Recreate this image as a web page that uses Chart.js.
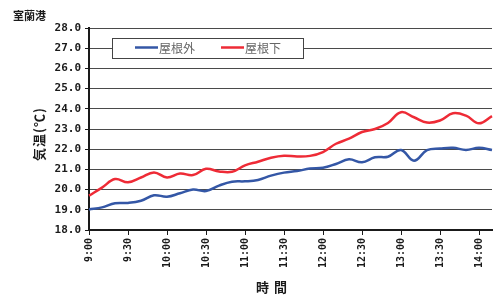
<!DOCTYPE html>
<html>
<head>
<meta charset="utf-8">
<script src="https://cdn.jsdelivr.net/npm/chart.js@4/dist/chart.umd.min.js"></script>
<style>
  html, body { margin: 0; padding: 0; background: #fff; }
  #wrap { width: 495px; height: 300px; }
</style>
</head>
<body>
<div id="wrap"><canvas id="c" width="495" height="300"></canvas></div>
<script>
// ═══ DATA ═══
const times = [
  '9:00', '9:10', '9:20', '9:30', '9:40', '9:50',
  '10:00', '10:10', '10:20', '10:30', '10:40', '10:50',
  '11:00', '11:10', '11:20', '11:30', '11:40', '11:50',
  '12:00', '12:10', '12:20', '12:30', '12:40', '12:50',
  '13:00', '13:10', '13:20', '13:30', '13:40', '13:50',
  '14:00', '14:10'
];
const tickLabels = ['9:00', '9:30', '10:00', '10:30', '11:00', '11:30', '12:00', '12:30', '13:00', '13:30', '14:00'];

const outside = [ // 屋根外
  19.02, 19.12, 19.32, 19.34, 19.45, 19.72,
  19.65, 19.82, 20.00, 19.93, 20.20, 20.39,
  20.41, 20.48, 20.69, 20.84, 20.92, 21.04,
  21.08, 21.27, 21.50, 21.35, 21.60, 21.63,
  21.96, 21.43, 21.95, 22.03, 22.07, 21.96,
  22.07, 21.96
];
const under = [ // 屋根下
  19.70, 20.10, 20.52, 20.36, 20.60, 20.85,
  20.60, 20.80, 20.72, 21.03, 20.90, 20.88,
  21.20, 21.38, 21.58, 21.68, 21.64, 21.67,
  21.86, 22.27, 22.52, 22.85, 23.00, 23.30,
  23.83, 23.58, 23.32, 23.42, 23.78, 23.66,
  23.28, 23.64
];
const seriesNames = ['屋根外', '屋根下'];

const BLUE = '#3457a6';
const RED = '#ee2b36';
const INK = '#1a1a1a';

// ═══ TITLES + LEGEND (drawn on top) ═══
const decor = {
  id: 'decor',
  afterDraw(chart) {
    const ctx = chart.ctx;
    ctx.save();
    ctx.fillStyle = INK;
    ctx.textBaseline = 'middle';

    // chart title
    ctx.font = 'bold 11px "Noto Sans CJK JP"';
    ctx.textAlign = 'left';
    ctx.fillText('室蘭港', 13, 16);

    // x title
    ctx.font = 'bold 13px "Noto Sans CJK JP"';
    ctx.letterSpacing = '5px';
    ctx.textAlign = 'center';
    ctx.fillText('時間', 274, 287);

    // y title
    ctx.letterSpacing = '1px';
    ctx.translate(39, 134);
    ctx.rotate(-Math.PI / 2);
    ctx.fillText('気温(℃)', 0, 0);
    ctx.restore();

    // legend box
    ctx.save();
    ctx.fillStyle = '#fff';
    ctx.strokeStyle = '#444';
    ctx.lineWidth = 1;
    ctx.fillRect(112, 38, 192, 20);
    ctx.strokeRect(112.5, 38.5, 191, 20);
    ctx.font = '12px "Noto Sans CJK JP"';
    ctx.textAlign = 'left';
    ctx.textBaseline = 'middle';
    const items = [[135, BLUE], [221, RED]];
    items.forEach(([x, col], i) => {
      ctx.strokeStyle = col;
      ctx.lineWidth = 2.5;
      ctx.beginPath();
      ctx.moveTo(x, 47.5);
      ctx.lineTo(x + 23, 47.5);
      ctx.stroke();
      ctx.fillStyle = '#666';
      ctx.fillText(seriesNames[i], x + 24, 48);
    });
    ctx.restore();
  }
};

// ═══ CHART ═══
new Chart(document.getElementById('c'), {
  type: 'line',
  data: {
    labels: times,
    datasets: [
      { label: seriesNames[0], data: outside, borderColor: BLUE, borderWidth: 2.5, pointRadius: 0, tension: 0.4, fill: false },
      { label: seriesNames[1], data: under, borderColor: RED, borderWidth: 2.5, pointRadius: 0, tension: 0.4, fill: false }
    ]
  },
  options: {
    responsive: false,
    animation: false,
    layout: { padding: { top: 28, right: 3, left: 0, bottom: 0 } },
    plugins: {
      legend: { display: false },
      tooltip: { enabled: false }
    },
    scales: {
      x: {
        offset: false,
        afterFit: s => { s.height = 70; },
        border: { color: INK, width: 2 },
        grid: { drawOnChartArea: false, drawTicks: true, tickLength: 5, tickColor: INK },
        ticks: {
          autoSkip: false,
          maxRotation: 90,
          minRotation: 90,
          padding: 3,
          color: INK,
          font: { family: '"DejaVu Sans Mono"', size: 10, weight: 'bold' },
          callback(v) {
            const l = this.getLabelForValue(v);
            return tickLabels.includes(l) ? l : null;
          }
        }
      },
      y: {
        min: 18,
        max: 28,
        afterFit: s => { s.width = 89; },
        border: { color: INK, width: 2 },
        grid: { color: '#4a4a4a', lineWidth: 1, tickLength: 4, tickColor: INK },
        ticks: {
          stepSize: 1,
          padding: 4,
          color: INK,
          font: { family: '"DejaVu Sans Mono"', size: 11, weight: 'bold' },
          callback: v => v.toFixed(1)
        }
      }
    }
  },
  plugins: [decor]
});
</script>
</body>
</html>
